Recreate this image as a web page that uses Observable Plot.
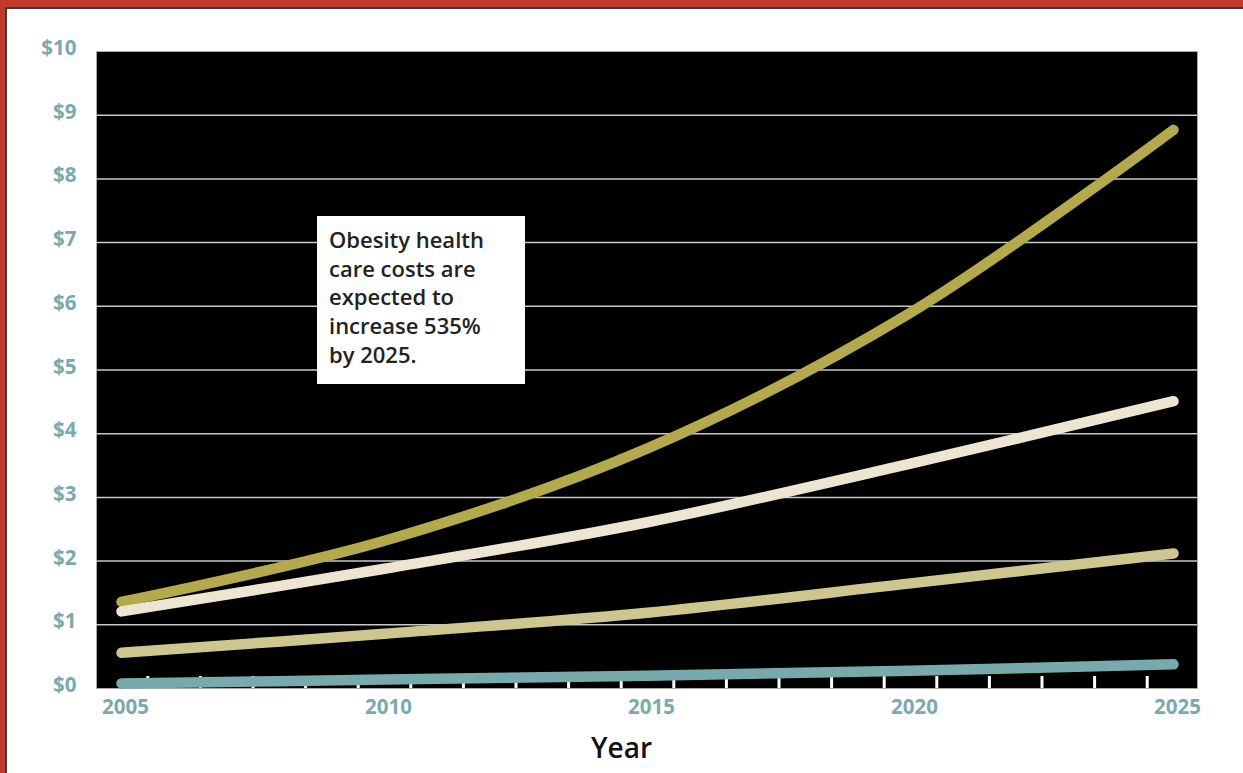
<!DOCTYPE html>
<html>
<head>
<meta charset="utf-8">
<script src="https://cdn.jsdelivr.net/npm/d3@7"></script>
<script src="https://cdn.jsdelivr.net/npm/@observablehq/plot@0.6"></script>
<style>
  html, body { margin: 0; padding: 0; background: #fff; }
  #page { position: relative; width: 1243px; height: 773px; overflow: hidden; background: #fff; }
  #chart { position: absolute; left: 0; top: 0; }
  .bar { position: absolute; z-index: 5; }
  #note { position: absolute; left: 317px; top: 216px; width: 208px; height: 168px; box-sizing: border-box;
          background: #fff; padding: 9px 0 0 12px; font: 600 22px "Open Sans", sans-serif; line-height: 28.7px; color: #222; z-index: 3; }
  #xtitle { position: absolute; left: 0; top: 728px; width: 1243px; height: 40px; line-height: 40px; text-align: center;
            font: 600 28px "Open Sans", sans-serif; color: #111; z-index: 3; }
</style>
</head>
<body>
<div id="page">
  <div id="chart"></div>
  <div id="note">Obesity health<br>care costs are<br>expected to<br>increase 535%<br>by 2025.</div>
  <div id="xtitle">Year</div>
  <div class="bar" style="left:0;top:0;width:1243px;height:7px;background:#c0392b"></div>
  <div class="bar" style="left:5px;top:7px;width:1238px;height:2px;background:#3a3a3a"></div>
  <div class="bar" style="left:0;top:0;width:5px;height:773px;background:#c0392b"></div>
  <div class="bar" style="left:5px;top:7px;width:2px;height:766px;background:#3a3a3a"></div>
</div>
<script>
// ---- data ----
const years = [2005, 2010, 2015, 2020, 2025];
const oliveValues = [1.36, 2.32, 3.77, 5.90, 8.77];
const creamValues = [1.21, 1.88, 2.61, 3.53, 4.51];
const tanValues   = [0.56, 0.86, 1.19, 1.65, 2.12];
const tealValues  = [0.08, 0.14, 0.20, 0.28, 0.38];
const xTickLabels = [2005, 2010, 2015, 2020, 2025];
const yTickValues = [0, 1, 2, 3, 4, 5, 6, 7, 8, 9, 10];
const gridValues  = [1, 2, 3, 4, 5, 6, 7, 8, 9];
const minorTicks  = d3.range(2005.5, 2025, 1);

const seriesList = [
  { name: "olive", values: oliveValues, color: "#b4aa4b" },
  { name: "cream", values: creamValues, color: "#ece5d2" },
  { name: "tan",   values: tanValues,   color: "#cec58f" },
  { name: "teal",  values: tealValues,  color: "#77aaad" }
];
const teal = "#79aaae";

const lineMarks = seriesList.map(s =>
  Plot.line(years.map((yr, i) => ({ year: yr, value: s.values[i] })), {
    x: "year", y: "value", stroke: s.color, strokeWidth: 10.5,
    strokeLinecap: "round", strokeLinejoin: "round", curve: "catmull-rom"
  })
);

const chart = Plot.plot({
  width: 1243,
  height: 773,
  marginLeft: 96,
  marginRight: 46,
  marginTop: 51,
  marginBottom: 85,
  style: { background: "transparent", fontFamily: "'Open Sans', sans-serif" },
  x: { domain: [2005, 2025], insetLeft: 25, insetRight: 24 },
  y: { domain: [0, 10] },
  marks: [
    Plot.frame({ fill: "black", stroke: "#a8a8a8", strokeWidth: 1 }),
    Plot.ruleY(gridValues, { stroke: "#c9c9c9", strokeWidth: 1.5 }),
    Plot.tickX(minorTicks, { stroke: "white", strokeWidth: 3, insetTop: 625 }),
    ...lineMarks,
    Plot.axisY({
      ticks: yTickValues, tickSize: 0, tickPadding: 20, tickFormat: d => "$" + d,
      fill: teal, fontWeight: "bold", fontSize: 20.5, dy: -3, label: null
    }),
    Plot.axisX({
      ticks: xTickLabels, tickSize: 0, tickPadding: 11, tickFormat: d => String(d),
      fill: teal, fontWeight: "bold", fontSize: 20.5, dx: 4, label: null
    })
  ]
});
document.getElementById("chart").appendChild(chart);
</script>
</body>
</html>
